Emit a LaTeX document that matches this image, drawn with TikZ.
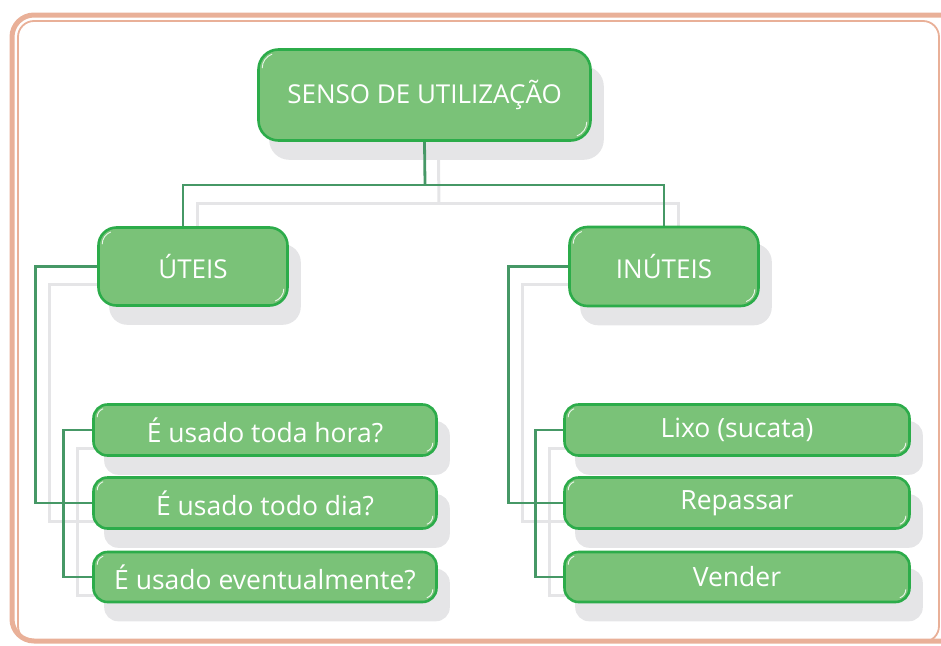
\documentclass[tikz,border=0pt]{standalone}
\usepackage{fontspec}
\setmainfont{Open Sans}
\usetikzlibrary{backgrounds}
\definecolor{boxfill}{RGB}{122,194,120}
\definecolor{boxline}{RGB}{44,172,74}
\definecolor{linkgreen}{RGB}{70,152,102}
\definecolor{shadowgray}{RGB}{229,229,231}
\definecolor{framesalmon}{RGB}{233,176,152}
\tikzset{
  gbox/.style={draw=boxline, line width=2.6pt, fill=boxfill, rounded corners=14pt,
    text=white, font=\fontsize{26.5}{29}\selectfont, inner sep=0pt, align=center},
  bigbox/.style={gbox, rounded corners=18pt, font=\fontsize{26}{28}\selectfont},
  link/.style={draw=linkgreen, line width=2.8pt},
  shlink/.style={draw=shadowgray, line width=3pt},
  gloss/.style={draw=white, line width=0.9pt, opacity=0.85}
}
\begin{document}
\begin{tikzpicture}[x=1pt,y=-1pt]
\useasboundingbox (0,0) rectangle (941,645);
\clip (0,0) rectangle (941,645);
% frame
\draw[framesalmon, line width=5pt, rounded corners=22pt] (12,15) rectangle (965,641);
\draw[framesalmon, line width=1.8pt, rounded corners=16pt] (18,21) rectangle (939,642);

% boxes
\node[bigbox, minimum width=332pt, minimum height=91pt, rounded corners=20pt] (top) at (424.5,95) {SENSO DE UTILIZAÇÃO};
\node[bigbox, minimum width=189pt, minimum height=78pt] (uteis) at (193,266.5) {ÚTEIS};
\node[bigbox, minimum width=189pt, minimum height=79pt] (inuteis) at (664,266.5) {INÚTEIS};
\node[gbox, minimum width=343pt, minimum height=51pt] (L1) at (265,430) {É usado toda hora?};
\node[gbox, minimum width=343pt, minimum height=51pt] (L2) at (265,503) {É usado todo dia?};
\node[gbox, minimum width=343pt, minimum height=50pt] (L3) at (265,577) {É usado eventualmente?};
\node[gbox, minimum width=345pt, minimum height=51pt] (R1) at (737,430) {Lixo (sucata)};
\node[gbox, minimum width=345pt, minimum height=51pt] (R2) at (737,503) {Repassar};
\node[gbox, minimum width=345pt, minimum height=50pt] (R3) at (737,577) {Vender};

\coordinate (hj) at (425,185);

% gloss highlights
\foreach \n/\r in {top/20,uteis/18,inuteis/18,L1/14,L2/14,L3/14,R1/14,R2/14,R3/14}{
  \draw[gloss] ([shift={(\r,\r)}]\n.north west) ++(-\r+5,0) arc[start angle=180, end angle=250, radius=\r-5];
  \draw[gloss] ([shift={(-\r,-\r)}]\n.south east) ++(\r-5,0) arc[start angle=0, end angle=70, radius=\r-5];
}

\begin{scope}[on background layer]
  % box shadows
  \foreach \n/\r in {top/20,uteis/18,inuteis/18,L1/14,L2/14,L3/14,R1/14,R2/14,R3/14}{
    \fill[shadowgray, rounded corners=\r] ([shift={(12,18)}]\n.south west) rectangle ([shift={(12,18)}]\n.north east);
  }
  % connector shadows
  \begin{scope}[transform canvas={shift={(14pt,-18pt)}}]
    \draw[shlink] (top.south) -- (hj);
    \draw[shlink] (uteis.north -| 183,0) |- (hj) -| (inuteis.north);
    \draw[shlink] (uteis.west) -- ++(-62,0) |- (L2.west);
    \draw[shlink] (L1.west) -- ++(-29,0) |- (L3.west);
    \draw[shlink] (inuteis.west) -- ++(-60,0) |- (R2.west);
    \draw[shlink] (R1.west) -- ++(-28,0) |- (R3.west);
  \end{scope}
  % connectors
  \draw[link] (top.south) -- (hj);
  \draw[link] (uteis.north -| 183,0) |- (hj) -| (inuteis.north);
  \draw[link] (uteis.west) -- ++(-62,0) |- (L2.west);
  \draw[link] (L1.west) -- ++(-29,0) |- (L3.west);
  \draw[link] (inuteis.west) -- ++(-60,0) |- (R2.west);
  \draw[link] (R1.west) -- ++(-28,0) |- (R3.west);
\end{scope}
\end{tikzpicture}
\end{document}
